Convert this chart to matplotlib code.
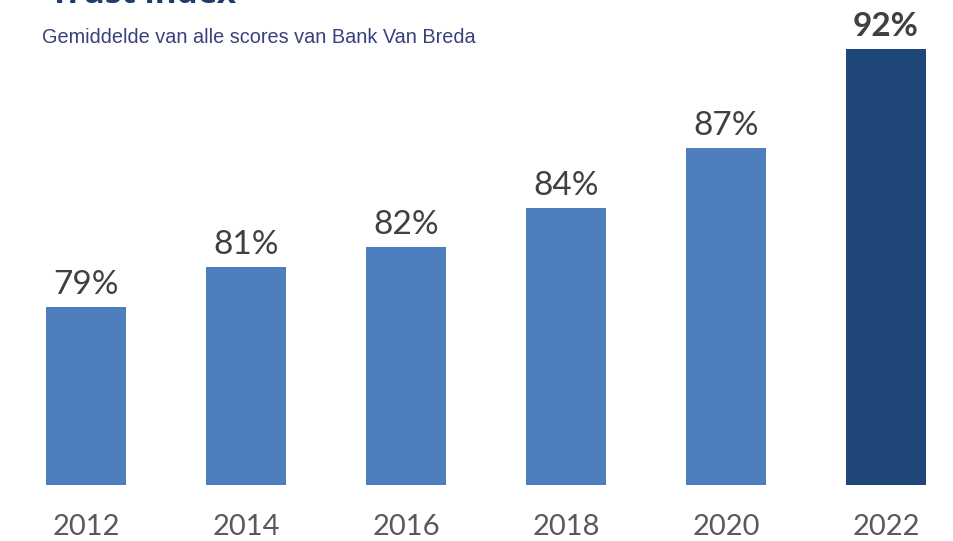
import matplotlib
matplotlib.use("Agg")
import matplotlib.pyplot as plt

# Trust index per survey year
years = ["2012", "2014", "2016", "2018", "2020", "2022"]
scores = [79, 81, 82, 84, 87, 92]
labels = ["79%", "81%", "82%", "84%", "87%", "92%"]

BAR_LIGHT = "#4E7EBD"
BAR_DARK = "#1F4678"
TEXT_GREY = "#404040"

fig = plt.figure(figsize=(9.54, 5.41), dpi=100)
ax = fig.add_axes([0, 0.1035, 1, 0.8965])

x = list(range(len(years)))
colors = [BAR_LIGHT] * (len(years) - 1) + [BAR_DARK]
bars = ax.bar(x, scores, width=0.5, color=colors, bottom=0)

ax.set_ylim(70, 94.5)
ax.set_xlim(-0.5375, 5.425)

for i, (xi, val, lab) in enumerate(zip(x, scores, labels)):
    last = i == len(years) - 1
    ax.annotate(lab, (xi, val), xytext=(0, 9.5), textcoords="offset points",
                ha="center", va="baseline", fontsize=24, family="Lato",
                color=TEXT_GREY, fontweight="bold" if last else "normal")

ax.set_xticks(x)
ax.set_xticklabels(years, fontsize=21, family="Lato", color="#595959")
ax.tick_params(axis="x", length=0, pad=21)
ax.set_yticks([])
for s in ax.spines.values():
    s.set_visible(False)

# title sits partly above the top edge
fig.text(0.052, 0.994, "Trust index", fontsize=24, fontweight="bold",
         family="Open Sans", color="#1F3B6E", ha="left", va="baseline")
fig.text(0.044, 0.930, "Gemiddelde van alle scores van Bank Van Breda",
         fontsize=14.3, family="Liberation Sans", color="#3A3F7D",
         ha="left", va="center")

fig.savefig("out.png", dpi=100)
